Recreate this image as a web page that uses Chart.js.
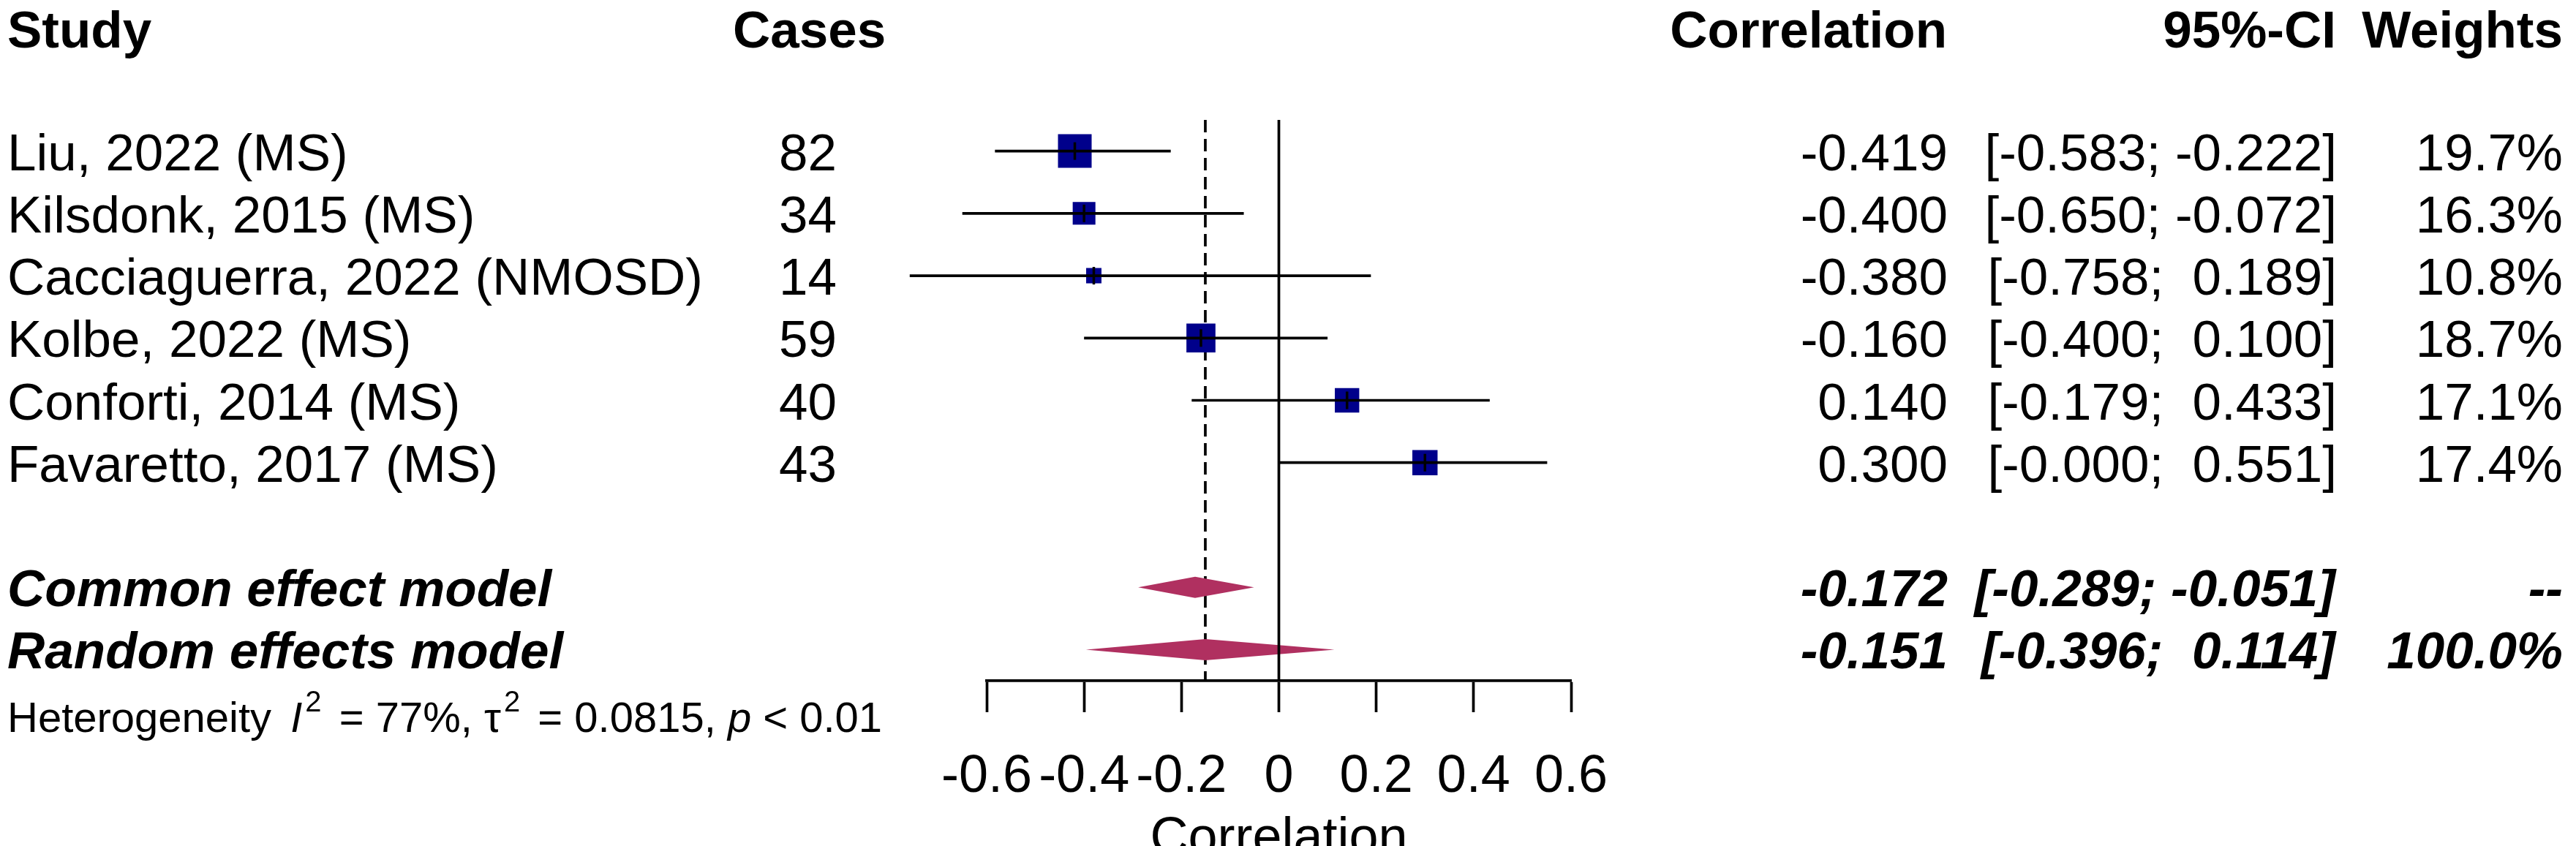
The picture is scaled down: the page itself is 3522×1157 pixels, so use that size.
<!DOCTYPE html>
<html>
<head>
<meta charset="utf-8">
<title>Forest plot</title>
<script src="https://cdn.jsdelivr.net/npm/chart.js@4.4.1/dist/chart.umd.min.js"></script>
<style>
  html, body { margin: 0; padding: 0; background: #fff; overflow: hidden; }
  #wrap { position: relative; width: 3522px; height: 1157px; }
</style>
</head>
<body>
<div id="wrap"><canvas id="forest"></canvas></div>
<script>
// study level data
const studies = ['Liu, 2022 (MS)', 'Kilsdonk, 2015 (MS)', 'Cacciaguerra, 2022 (NMOSD)',
                 'Kolbe, 2022 (MS)', 'Conforti, 2014 (MS)', 'Favaretto, 2017 (MS)'];
const cases = [82, 34, 14, 59, 40, 43];
const correlation = [-0.419, -0.400, -0.380, -0.160, 0.140, 0.300];
const ciLow = [-0.583, -0.650, -0.758, -0.400, -0.179, -0.000];
const ciHigh = [-0.222, -0.072, 0.189, 0.100, 0.433, 0.551];
const weights = ['19.7%', '16.3%', '10.8%', '18.7%', '17.1%', '17.4%'];

// pooled estimates
const models = ['Common effect model', 'Random effects model'];
const modelCor = [-0.172, -0.151];
const modelLow = [-0.289, -0.396];
const modelHigh = [-0.051, 0.114];
const modelWeights = ['--', '100.0%'];

// axis
const tickValues = [-0.6, -0.4, -0.2, 0, 0.2, 0.4, 0.6];
const tickLabels = ['-0.6', '-0.4', '-0.2', '0', '0.2', '0.4', '0.6'];

const FONT = '"Liberation Sans", Arial, Helvetica, sans-serif';
const BOX_K = 4.5;      // box side per sqrt(n - 3), plus the outline
const DIAMOND_H = 0.17; // half height of the summary diamonds, in rows

// rows on the y scale: studies 0-5, blank, then the two models
const studyRows = studies.map((s, i) => i);
const modelRows = [7, 8];

function fmt(v) {
  return (v < 0 || Object.is(v, -0) ? '-' : '') + Math.abs(v).toFixed(3);
}
function ciText(lo, hi) {
  const a = fmt(lo), b = fmt(hi);
  return '[' + (a[0] === '-' ? '' : ' ') + a + '; ' + (b[0] === '-' ? '' : ' ') + b + ']';
}

// CI segments, broken with null points
const ciSegments = [];
studies.forEach((s, i) => {
  ciSegments.push({x: ciLow[i], y: studyRows[i]}, {x: ciHigh[i], y: studyRows[i]}, {x: ciHigh[i], y: null});
});

function diamond(k) {
  const y = modelRows[k];
  return [
    {x: modelLow[k], y: y},
    {x: modelCor[k], y: y - DIAMOND_H},
    {x: modelHigh[k], y: y},
    {x: modelCor[k], y: y + DIAMOND_H},
    {x: modelLow[k], y: y}
  ];
}

const lineBase = {type: 'line', pointRadius: 0, clip: false, fill: false, borderColor: '#000', borderWidth: 3.7};

// table text around the plot
const tablePlugin = {
  id: 'forestTable',
  afterDraw(chart) {
    const ctx = chart.ctx;
    const ys = chart.scales.y;
    const base = r => ys.getPixelForValue(r) + 26;
    const put = (txt, x, y, align, style) => {
      ctx.font = style + ' 71px ' + FONT;
      ctx.textAlign = align;
      ctx.fillText(txt, x, y);
    };
    ctx.save();
    ctx.fillStyle = '#000';
    ctx.textBaseline = 'alphabetic';

    // header
    const hy = 65;
    put('Study', 10, hy, 'left', 'bold');
    put('Cases', 1002, hy, 'left', 'bold');
    put('Correlation', 2662, hy, 'right', 'bold');
    put('95%-CI', 3194, hy, 'right', 'bold');
    put('Weights', 3504, hy, 'right', 'bold');

    studies.forEach((s, i) => {
      const y = base(studyRows[i]);
      put(s, 10, y, 'left', 'normal');
      put(String(cases[i]), 1144, y, 'right', 'normal');
      put(fmt(correlation[i]), 2663, y, 'right', 'normal');
      put(ciText(ciLow[i], ciHigh[i]), 3195, y, 'right', 'normal');
      put(weights[i], 3504, y, 'right', 'normal');
    });

    models.forEach((m, k) => {
      const y = base(modelRows[k]);
      put(m, 10, y, 'left', 'italic bold');
      put(fmt(modelCor[k]), 2663, y, 'right', 'italic bold');
      put(ciText(modelLow[k], modelHigh[k]), 3193, y, 'right', 'italic bold');
      put(modelWeights[k], 3504, y, 'right', 'italic bold');
    });

    // heterogeneity line, built piece by piece
    const parts = [
      ['Heterogeneity ', 'normal', 10], ['I', 'italic', 0], ['2', 'sup', 0],
      [' = 77%, ', 'normal', 0], ['\u03c4', 'normal', 0], ['2', 'sup', 0],
      [' = 0.0815, ', 'normal', 0], ['p', 'italic', 0], [' < 0.01', 'normal', 0]
    ];
    let x = 10;
    const hyb = 1001;
    ctx.textAlign = 'left';
    parts.forEach(([t, st, extra]) => {
      if (st === 'sup') {
        ctx.font = '40px ' + FONT;
        ctx.fillText(t, x + 4, hyb - 28);
        x += ctx.measureText(t).width + 12;
      } else {
        ctx.font = st + ' 58px ' + FONT;
        ctx.fillText(t, x, hyb);
        x += ctx.measureText(t).width + extra;
      }
    });
    ctx.restore();
  }
};

new Chart(document.getElementById('forest'), {
  type: 'scatter',
  data: {
    datasets: [
      // estimate ticks (drawn on top)
      {
        data: correlation.map((c, i) => ({x: c, y: studyRows[i]})),
        pointStyle: 'line', rotation: 90, pointRadius: 12, borderColor: '#000', borderWidth: 3.5,
        clip: false, order: 0
      },
      Object.assign({}, lineBase, {data: ciSegments, spanGaps: false, order: 1}),
      Object.assign({}, lineBase, {data: [{x: 0, y: -0.5}, {x: 0, y: 8.5}], order: 2}),
      Object.assign({}, lineBase, {data: diamond(0), fill: 'shape', borderWidth: 0,
        borderColor: '#B03060', backgroundColor: '#B03060', order: 3}),
      Object.assign({}, lineBase, {data: diamond(1), fill: 'shape', borderWidth: 0,
        borderColor: '#B03060', backgroundColor: '#B03060', order: 3}),
      {
        data: correlation.map((c, i) => ({x: c, y: studyRows[i]})),
        pointStyle: 'rect',
        pointRadius: cases.map(n => BOX_K * Math.sqrt(n - 3) / Math.SQRT2),
        backgroundColor: '#00008B', borderColor: '#00008B', borderWidth: 6,
        clip: false, order: 4
      },
      Object.assign({}, lineBase, {data: [{x: modelCor[1], y: -0.5}, {x: modelCor[1], y: 8.5}],
        borderDash: [17, 9], order: 5})
    ]
  },
  options: {
    responsive: true,
    maintainAspectRatio: false,
    devicePixelRatio: 1,
    animation: false,
    events: [],
    layout: {padding: {left: 1349, right: 1374, top: 164, bottom: 0}},
    plugins: {legend: {display: false}, tooltip: {enabled: false}},
    scales: {
      x: {
        type: 'linear', position: 'bottom', min: -0.6, max: 0.6,
        afterBuildTicks: s => { s.ticks = tickValues.map(v => ({value: v})); },
        afterFit: s => { s.height = 226; },
        ticks: {
          callback: (v, i) => tickLabels[i],
          autoSkip: false, maxRotation: 0, padding: 46, color: '#000',
          font: {family: FONT, size: 72}
        },
        grid: {drawOnChartArea: false, drawTicks: true, tickLength: 43, tickWidth: 3.7,
               tickColor: '#000', color: '#000'},
        border: {display: true, color: '#000', width: 3.7},
        title: {display: true, text: 'Correlation', color: '#000',
                font: {family: FONT, size: 72}, padding: {top: 0, bottom: -34}}
      },
      y: {type: 'linear', display: false, reverse: true, min: -0.5, max: 8.5}
    }
  },
  plugins: [tablePlugin]
});
</script>
</body>
</html>
